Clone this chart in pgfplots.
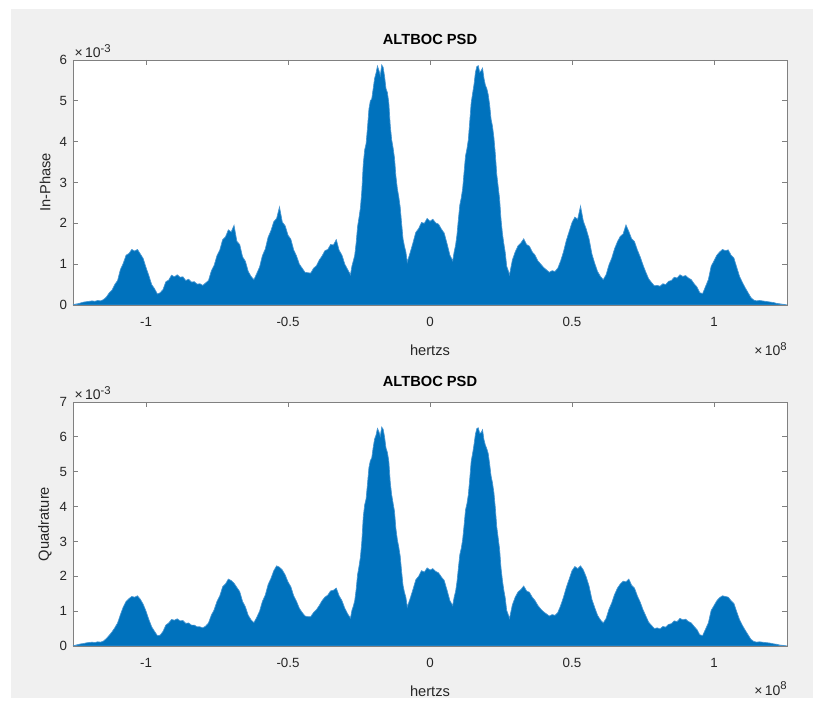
\documentclass[border=0pt]{standalone}
\usepackage{pgfplots}
\pgfplotsset{compat=1.18}
\usepackage{pgfplotstable}
\usepackage{fontspec}
\setmainfont{Liberation Sans}

\definecolor{mblue}{RGB}{0,114,189}
\definecolor{mtip}{RGB}{70,150,210}
\definecolor{figgray}{RGB}{240,240,240}
\definecolor{axgray}{RGB}{128,128,128}
\definecolor{txt}{RGB}{38,38,38}

\newcommand{\expo}[1]{×\,10\raisebox{0.75ex}{\fontsize{8.5}{9}\selectfont #1}}

% in-phase PSD, x in 1e8 Hz, y in 1e-3
\pgfplotstableread{
x y
-1.257 0
-1.25 0.02
-1.24 0.03
-1.23 0.05
-1.22 0.07
-1.21 0.08
-1.20 0.09
-1.19 0.10
-1.18 0.09
-1.17 0.11
-1.16 0.10
-1.15 0.13
-1.14 0.19
-1.13 0.29
-1.12 0.36
-1.11 0.50
-1.10 0.60
-1.09 0.87
-1.08 1.02
-1.07 1.22
-1.06 1.26
-1.05 1.36
-1.04 1.32
-1.03 1.36
-1.02 1.25
-1.01 1.14
-1.00 0.92
-0.99 0.72
-0.98 0.50
-0.97 0.40
-0.96 0.27
-0.95 0.30
-0.94 0.38
-0.93 0.57
-0.92 0.61
-0.91 0.73
-0.90 0.69
-0.89 0.74
-0.88 0.68
-0.87 0.69
-0.86 0.60
-0.85 0.63
-0.84 0.56
-0.83 0.57
-0.82 0.51
-0.81 0.52
-0.80 0.48
-0.79 0.54
-0.78 0.60
-0.77 0.83
-0.76 0.97
-0.75 1.21
-0.74 1.35
-0.73 1.60
-0.72 1.67
-0.71 1.84
-0.70 1.79
-0.69 1.95
-0.68 1.56
-0.67 1.48
-0.66 1.18
-0.65 1.07
-0.64 0.82
-0.63 0.70
-0.62 0.62
-0.61 0.77
-0.60 0.93
-0.59 1.21
-0.58 1.37
-0.57 1.66
-0.56 1.82
-0.55 2.04
-0.54 2.12
-0.53 2.40
-0.52 2.03
-0.51 1.94
-0.50 1.71
-0.49 1.61
-0.48 1.35
-0.47 1.20
-0.46 1.00
-0.45 0.90
-0.44 0.80
-0.43 0.79
-0.42 0.78
-0.41 0.90
-0.40 0.96
-0.39 1.10
-0.38 1.20
-0.37 1.33
-0.36 1.36
-0.35 1.48
-0.34 1.47
-0.33 1.60
-0.32 1.34
-0.31 1.22
-0.30 1.00
-0.29 0.87
-0.28 0.74
-0.275 0.95
-0.27 1.08
-0.265 1.22
-0.26 1.52
-0.255 1.92
-0.25 2.14
-0.245 2.38
-0.24 2.80
-0.235 3.45
-0.23 3.80
-0.225 3.95
-0.22 4.35
-0.215 4.80
-0.21 5.00
-0.205 5.05
-0.20 5.30
-0.195 5.55
-0.19 5.68
-0.185 5.85
-0.18 5.75
-0.175 5.62
-0.17 5.88
-0.165 5.82
-0.16 5.60
-0.155 5.30
-0.15 5.20
-0.145 4.95
-0.14 4.40
-0.135 4.05
-0.13 3.85
-0.125 3.60
-0.12 3.15
-0.115 2.85
-0.11 2.65
-0.105 2.40
-0.10 2.00
-0.095 1.62
-0.09 1.44
-0.085 1.30
-0.08 1.05
-0.07 1.28
-0.06 1.52
-0.05 1.78
-0.04 1.87
-0.03 2.02
-0.02 2.00
-0.01 2.12
0.00 2.05
0.01 2.10
0.02 2.01
0.03 1.98
0.04 1.86
0.05 1.76
0.06 1.50
0.07 1.22
0.08 1.08
0.085 1.30
0.09 1.46
0.095 1.72
0.10 2.10
0.105 2.45
0.11 2.62
0.115 2.85
0.12 3.25
0.125 3.65
0.13 3.82
0.135 4.05
0.14 4.50
0.145 4.95
0.15 5.18
0.155 5.40
0.16 5.70
0.165 5.84
0.17 5.86
0.175 5.70
0.18 5.74
0.185 5.80
0.19 5.55
0.195 5.38
0.20 5.30
0.205 5.15
0.21 4.90
0.215 4.55
0.22 4.38
0.225 4.10
0.23 3.70
0.235 3.20
0.24 2.90
0.245 2.60
0.25 2.10
0.255 1.75
0.26 1.50
0.265 1.28
0.27 0.95
0.275 0.85
0.28 0.74
0.29 1.10
0.30 1.30
0.31 1.45
0.32 1.52
0.33 1.62
0.34 1.48
0.35 1.44
0.36 1.30
0.37 1.22
0.38 1.08
0.39 1.00
0.40 0.92
0.41 0.86
0.42 0.80
0.43 0.84
0.44 0.82
0.45 0.90
0.46 1.08
0.47 1.30
0.48 1.58
0.49 1.80
0.50 2.02
0.51 2.15
0.52 2.10
0.53 2.42
0.54 2.05
0.55 1.86
0.56 1.62
0.57 1.25
0.58 1.02
0.59 0.82
0.60 0.70
0.61 0.62
0.62 0.74
0.63 0.98
0.64 1.15
0.65 1.38
0.66 1.55
0.67 1.68
0.68 1.74
0.69 1.96
0.70 1.80
0.71 1.62
0.72 1.55
0.73 1.35
0.74 1.18
0.75 0.98
0.76 0.80
0.77 0.64
0.78 0.55
0.79 0.47
0.80 0.48
0.81 0.46
0.82 0.52
0.83 0.50
0.84 0.58
0.85 0.60
0.86 0.68
0.87 0.66
0.88 0.74
0.89 0.70
0.90 0.72
0.91 0.66
0.92 0.62
0.93 0.52
0.94 0.44
0.95 0.30
0.96 0.28
0.97 0.45
0.98 0.62
0.99 0.95
1.00 1.08
1.01 1.22
1.02 1.30
1.03 1.36
1.04 1.33
1.05 1.35
1.06 1.22
1.07 1.15
1.08 0.92
1.09 0.70
1.10 0.55
1.11 0.42
1.12 0.30
1.13 0.18
1.14 0.12
1.15 0.10
1.16 0.11
1.17 0.10
1.18 0.09
1.19 0.08
1.20 0.07
1.21 0.06
1.22 0.04
1.23 0.03
1.24 0.02
1.25 0.01
1.257 0
}\inphase

% quadrature PSD
\pgfplotstableread{
x y
-1.257 0
-1.25 0.02
-1.24 0.04
-1.23 0.06
-1.22 0.07
-1.21 0.09
-1.20 0.10
-1.19 0.11
-1.18 0.10
-1.17 0.12
-1.16 0.11
-1.15 0.14
-1.14 0.21
-1.13 0.30
-1.12 0.40
-1.11 0.52
-1.10 0.66
-1.09 0.90
-1.08 1.12
-1.07 1.28
-1.06 1.36
-1.05 1.42
-1.04 1.40
-1.03 1.44
-1.02 1.34
-1.01 1.20
-1.00 1.00
-0.99 0.76
-0.98 0.55
-0.97 0.42
-0.96 0.30
-0.95 0.31
-0.94 0.42
-0.93 0.60
-0.92 0.66
-0.91 0.76
-0.90 0.74
-0.89 0.78
-0.88 0.72
-0.87 0.73
-0.86 0.65
-0.85 0.66
-0.84 0.60
-0.83 0.60
-0.82 0.55
-0.81 0.55
-0.80 0.52
-0.79 0.57
-0.78 0.66
-0.77 0.88
-0.76 1.04
-0.75 1.28
-0.74 1.44
-0.73 1.70
-0.72 1.78
-0.71 1.92
-0.70 1.88
-0.69 1.80
-0.68 1.68
-0.67 1.56
-0.66 1.28
-0.65 1.12
-0.64 0.88
-0.63 0.75
-0.62 0.67
-0.61 0.82
-0.60 1.00
-0.59 1.28
-0.58 1.46
-0.57 1.76
-0.56 1.94
-0.55 2.16
-0.54 2.30
-0.53 2.26
-0.52 2.18
-0.51 2.04
-0.50 1.84
-0.49 1.70
-0.48 1.44
-0.47 1.28
-0.46 1.08
-0.45 0.96
-0.44 0.86
-0.43 0.84
-0.42 0.84
-0.41 0.96
-0.40 1.04
-0.39 1.16
-0.38 1.30
-0.37 1.40
-0.36 1.46
-0.35 1.58
-0.34 1.60
-0.33 1.66
-0.32 1.44
-0.31 1.30
-0.30 1.08
-0.29 0.92
-0.28 0.80
-0.275 1.02
-0.27 1.14
-0.265 1.30
-0.26 1.62
-0.255 2.05
-0.25 2.28
-0.245 2.55
-0.24 3.00
-0.235 3.70
-0.23 4.05
-0.225 4.22
-0.22 4.66
-0.215 5.12
-0.21 5.32
-0.205 5.40
-0.20 5.70
-0.195 5.94
-0.19 6.05
-0.185 6.24
-0.18 6.15
-0.175 6.02
-0.17 6.28
-0.165 6.22
-0.16 6.00
-0.155 5.68
-0.15 5.55
-0.145 5.30
-0.14 4.70
-0.135 4.34
-0.13 4.10
-0.125 3.86
-0.12 3.36
-0.115 3.05
-0.11 2.84
-0.105 2.58
-0.10 2.14
-0.095 1.74
-0.09 1.54
-0.085 1.40
-0.08 1.12
-0.07 1.36
-0.06 1.62
-0.05 1.90
-0.04 2.00
-0.03 2.16
-0.02 2.12
-0.01 2.24
0.00 2.18
0.01 2.22
0.02 2.14
0.03 2.10
0.04 1.98
0.05 1.88
0.06 1.60
0.07 1.30
0.08 1.16
0.085 1.40
0.09 1.56
0.095 1.84
0.10 2.24
0.105 2.62
0.11 2.80
0.115 3.05
0.12 3.46
0.125 3.90
0.13 4.08
0.135 4.34
0.14 4.80
0.145 5.30
0.15 5.52
0.155 5.78
0.16 6.08
0.165 6.24
0.17 6.26
0.175 6.10
0.18 6.12
0.185 6.20
0.19 5.92
0.195 5.76
0.20 5.66
0.205 5.52
0.21 5.22
0.215 4.88
0.22 4.68
0.225 4.40
0.23 3.96
0.235 3.42
0.24 3.10
0.245 2.78
0.25 2.24
0.255 1.88
0.26 1.60
0.265 1.37
0.27 1.02
0.275 0.91
0.28 0.79
0.29 1.18
0.30 1.40
0.31 1.55
0.32 1.62
0.33 1.72
0.34 1.58
0.35 1.54
0.36 1.40
0.37 1.30
0.38 1.16
0.39 1.06
0.40 0.98
0.41 0.92
0.42 0.86
0.43 0.90
0.44 0.88
0.45 0.96
0.46 1.16
0.47 1.40
0.48 1.68
0.49 1.92
0.50 2.16
0.51 2.28
0.52 2.22
0.53 2.30
0.54 2.18
0.55 1.98
0.56 1.72
0.57 1.34
0.58 1.10
0.59 0.88
0.60 0.75
0.61 0.66
0.62 0.79
0.63 1.05
0.64 1.24
0.65 1.48
0.66 1.66
0.67 1.78
0.68 1.86
0.69 1.84
0.70 1.92
0.71 1.74
0.72 1.66
0.73 1.44
0.74 1.26
0.75 1.04
0.76 0.86
0.77 0.68
0.78 0.59
0.79 0.50
0.80 0.52
0.81 0.49
0.82 0.56
0.83 0.54
0.84 0.62
0.85 0.64
0.86 0.72
0.87 0.70
0.88 0.79
0.89 0.75
0.90 0.77
0.91 0.70
0.92 0.66
0.93 0.56
0.94 0.47
0.95 0.32
0.96 0.30
0.97 0.48
0.98 0.66
0.99 1.02
1.00 1.16
1.01 1.30
1.02 1.39
1.03 1.44
1.04 1.42
1.05 1.40
1.06 1.30
1.07 1.22
1.08 0.98
1.09 0.75
1.10 0.59
1.11 0.45
1.12 0.32
1.13 0.19
1.14 0.13
1.15 0.11
1.16 0.12
1.17 0.11
1.18 0.10
1.19 0.09
1.20 0.08
1.21 0.06
1.22 0.05
1.23 0.03
1.24 0.02
1.25 0.01
1.257 0
}\quadrature

\pgfplotsset{
  psd/.style={
    scale only axis,
    width=535.5pt,
    anchor=south west,
    xmin=-1.257, xmax=1.257,
    ymin=0,
    axis background/.style={fill=white},
    axis line style={axgray, line width=0.6pt},
    every tick/.style={axgray, line width=0.6pt},
    major tick length=4pt,
    tick align=inside,
    xtick={-1,-0.5,0,0.5,1},
    xticklabels={-1,-0.5,0,0.5,1},
    tick label style={font=\fontsize{10}{12}\selectfont, text=txt},
    /pgf/number format/assume math mode=true,
    xticklabel style={yshift=-5.5pt},
    yticklabel style={xshift=-1pt},
    xlabel={hertzs},
    xlabel style={at={(axis description cs:0.5,0)}, anchor=center, yshift=-34pt,
      font=\fontsize{11}{13}\selectfont, text=txt},
    ylabel style={at={(axis description cs:-0.0392,0.5)}, anchor=center,
      font=\fontsize{11}{13}\selectfont, text=txt},
    title={ALTBOC PSD},
    title style={at={(axis description cs:0.5,1)}, anchor=center, yshift=9.5pt,
      font=\fontsize{11}{13}\selectfont\bfseries, text=black},
  }
}

\begin{document}
\begin{tikzpicture}
\fill[white] (0,0) rectangle (618pt,529.5pt);
\fill[figgray] (8.25pt,6pt) rectangle (609.75pt,522.75pt);

\begin{axis}[psd, name=top,
  at={(54.75pt,300.75pt)}, height=183.75pt,
  ymax=6, ytick={0,1,2,3,4,5,6}, yticklabels={0,1,2,3,4,5,6},
  ylabel={In-Phase}]
  \addplot[fill=mblue, draw=mtip, line width=0.5pt] table[x=x,y=y] {\inphase} \closedcycle;
\end{axis}
\node[anchor=south west, inner sep=0pt, font=\fontsize{10.5}{12}\selectfont, text=txt]
  at ([xshift=1pt,yshift=1.5pt]top.north west) {\expo{-3}};
\node[anchor=east, inner sep=0pt, font=\fontsize{10.5}{12}\selectfont, text=txt]
  at ([yshift=-33pt]top.south east) {\expo{8}};

\begin{axis}[psd, name=bot,
  at={(54.75pt,45pt)}, height=183pt,
  ymax=7, ytick={0,1,2,3,4,5,6,7}, yticklabels={0,1,2,3,4,5,6,7},
  ylabel={Quadrature}]
  \addplot[fill=mblue, draw=mtip, line width=0.5pt] table[x=x,y=y] {\quadrature} \closedcycle;
\end{axis}
\node[anchor=south west, inner sep=0pt, font=\fontsize{10.5}{12}\selectfont, text=txt]
  at ([xshift=1pt,yshift=1.5pt]bot.north west) {\expo{-3}};
\node[anchor=east, inner sep=0pt, font=\fontsize{10.5}{12}\selectfont, text=txt]
  at ([yshift=-32pt]bot.south east) {\expo{8}};
\end{tikzpicture}
\end{document}
